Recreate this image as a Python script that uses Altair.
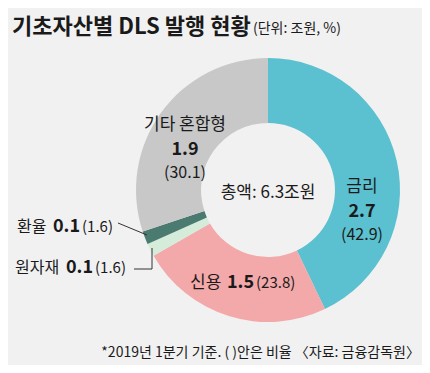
import altair as alt
import pandas as pd

categories = ["금리", "신용", "원자재", "환율", "기타 혼합형"]
amounts = [2.7, 1.5, 0.1, 0.1, 1.9]
shares = [42.9, 23.8, 1.6, 1.6, 30.1]
colors = ["#5bc0cf", "#f3a8a9", "#d4ecd9", "#4a7a70", "#c8c8c8"]
total = 6.3
title = "기초자산별 DLS 발행 현황"
unit = "(단위: 조원, %)"
note = "*2019년 1분기 기준. ( )안은 비율 〈자료: 금융감독원〉"

FONT = "Noto Sans CJK KR"
INK = "#1a1a1a"
W, H = 414, 357
CX, CY = 260, 182

df = pd.DataFrame({"cat": categories, "amount": amounts, "share": shares,
                   "order": list(range(len(categories)))})

arc = alt.Chart(df).mark_arc(outerRadius=132, innerRadius=67).encode(
    theta=alt.Theta("share:Q", stack=True),
    order=alt.Order("order:Q"),
    color=alt.Color("cat:N", scale=alt.Scale(domain=categories, range=colors), legend=None),
    x=alt.value(CX), y=alt.value(CY),
)

base = alt.Chart(pd.DataFrame({"a": [0]}))


def txt(s, x, y, size, weight="normal", align="center"):
    return base.mark_text(text=s, fontSize=size, fontWeight=weight, align=align,
                          baseline="middle", font=FONT, color=INK).encode(
        x=alt.value(x), y=alt.value(y))


def line(x1, y1, x2, y2):
    return base.mark_rule(color="#333333", strokeWidth=1).encode(
        x=alt.value(x1), y=alt.value(y1), x2=alt.value(x2), y2=alt.value(y2))


def num(v):
    return f"{v:.1f}"


layers = [arc,
          txt(title, 4, 19, 22, "bold", "left"),
          txt(unit, 245, 21, 14, "normal", "left"),
          # 기타 혼합형
          txt(categories[4], 177, 117, 17),
          txt(num(amounts[4]), 177, 142, 18, "bold"),
          txt(f"({num(shares[4])})", 177, 165, 16),
          # 금리
          txt(categories[0], 354, 179, 17),
          txt(num(amounts[0]), 354, 204, 18, "bold"),
          txt(f"({num(shares[0])})", 354, 227, 16),
          # center
          txt(f"총액: {total}조원", 260, 185, 17),
          # 신용
          txt(categories[1], 182, 275, 17, "normal", "left"),
          txt(num(amounts[1]), 219, 275, 18, "bold", "left"),
          txt(f"({num(shares[1])})", 248, 275, 15, "normal", "left"),
          # 환율
          txt(categories[3], 9, 219, 16, "normal", "left"),
          txt(num(amounts[3]), 45, 219, 18, "bold", "left"),
          txt(f"({num(shares[3])})", 74, 219, 15, "normal", "left"),
          line(110, 215, 139, 227),
          # 원자재
          txt(categories[2], 7, 260, 16, "normal", "left"),
          txt(num(amounts[2]), 58, 260, 18, "bold", "left"),
          txt(f"({num(shares[2])})", 87, 260, 15, "normal", "left"),
          line(126, 261, 144, 261),
          line(144, 261, 144, 240),
          # footnote
          txt(note, 412, 345, 14, "normal", "right"),
          ]

chart = alt.layer(*layers).properties(
    width=W, height=H, background="#f1f1f1", padding=0,
    autosize=alt.AutoSizeParams(type="none"),
).configure_view(stroke=None)

chart.save("out.html", embed_options={"renderer": "svg", "actions": False})
